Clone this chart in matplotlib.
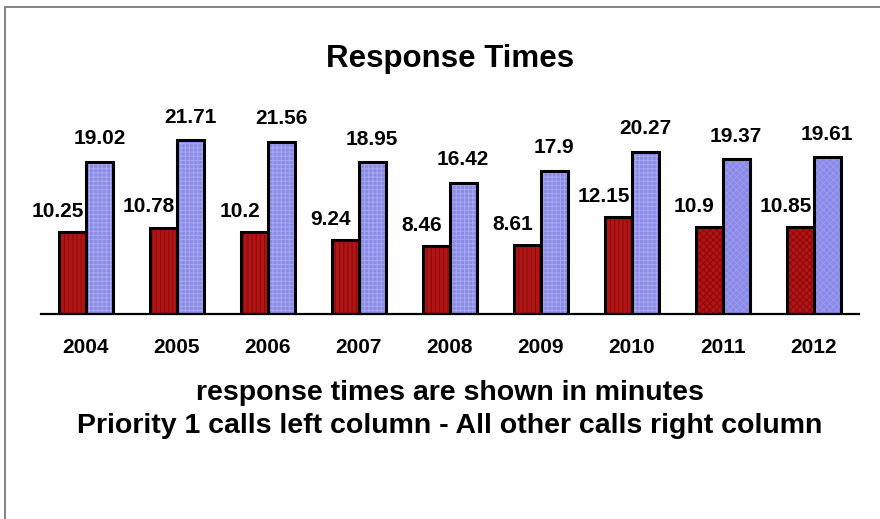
import matplotlib
matplotlib.use("Agg")
import matplotlib.pyplot as plt
import numpy as np
from matplotlib.patches import Rectangle

years = ["2004", "2005", "2006", "2007", "2008", "2009", "2010", "2011", "2012"]
priority1 = [10.25, 10.78, 10.2, 9.24, 8.46, 8.61, 12.15, 10.9, 10.85]
other_calls = [19.02, 21.71, 21.56, 18.95, 16.42, 17.9, 20.27, 19.37, 19.61]
value_labels_p1 = ["10.25", "10.78", "10.2", "9.24", "8.46", "8.61", "12.15", "10.9", "10.85"]
value_labels_other = ["19.02", "21.71", "21.56", "18.95", "16.42", "17.9", "20.27", "19.37", "19.61"]

plt.rcParams["font.family"] = ["Liberation Sans", "DejaVu Sans"]
plt.rcParams["font.weight"] = "bold"
plt.rcParams["hatch.linewidth"] = 0.7

W, H = 880, 519
fig = plt.figure(figsize=(W / 100, H / 100), dpi=100)
fig.patch.set_facecolor("white")

# outer frame (left and top visible)
fig.add_artist(Rectangle((5 / W, -0.05), 1.2, 1 - 7 / H + 0.05, transform=fig.transFigure,
                         fill=False, edgecolor="#7a7a7a", linewidth=1.3))

left, right, base_y, top_y = 40.5, 859, 314, 100
ax = fig.add_axes([left / W, (H - base_y) / H, (right - left) / W, (base_y - top_y) / H])
ax.set_facecolor("none")

x = np.arange(len(years))
w = 0.297
red = "#b01414"
blue = "#8a8ae6"

# fills with hatch pattern
red_fill = ax.bar(x - w / 2, priority1, w, color=red, edgecolor="#8c0a0a", hatch="||||",
                  linewidth=0, zorder=2)
blue_fill = ax.bar(x + w / 2, other_calls, w, color=blue, edgecolor="#a9a9f2", hatch="++++",
                   linewidth=0, zorder=4)
# last two years use a finer, speckled pattern in the reference
for p in list(red_fill)[-2:]:
    p.set_hatch("xxxxx")
for p in list(blue_fill)[-2:]:
    p.set_hatch("xxxxx")
    p.set_edgecolor("#9a9aee")
# black outlines
ax.bar(x - w / 2, priority1, w, fill=False, edgecolor="black", linewidth=2.2, zorder=2.5)
ax.bar(x + w / 2, other_calls, w, fill=False, edgecolor="black", linewidth=2.2, zorder=4.5)

for xi, v, s in zip(x, priority1, value_labels_p1):
    ax.annotate(s, (xi - w / 2, v), xytext=(-10.5, 11), textcoords="offset points",
                ha="center", va="baseline", fontsize=15, fontweight="bold", zorder=3)
for xi, v, s in zip(x, other_calls, value_labels_other):
    ax.annotate(s, (xi + w / 2, v), xytext=(0, 12.5), textcoords="offset points",
                ha="center", va="baseline", fontsize=15, fontweight="bold", zorder=5)

ax.set_xlim(-0.5, len(years) - 0.5)
ax.set_ylim(0, (base_y - top_y) / 8.0)
ax.set_xticks(x)
ax.set_xticklabels(years, fontsize=15, fontweight="bold")
ax.tick_params(axis="x", length=0, pad=17)
ax.set_yticks([])
for sp in ["top", "right", "left"]:
    ax.spines[sp].set_visible(False)
ax.spines["bottom"].set_linewidth(1.6)
ax.spines["bottom"].set_zorder(6)

fig.text(450 / W, 1 - 67 / H, "Response Times", ha="center", va="baseline",
         fontsize=22.5, fontweight="bold")
fig.text(450 / W, 1 - 400 / H, "response times are shown in minutes", ha="center", va="baseline",
         fontsize=20.5, fontweight="bold")
fig.text(450 / W, 1 - 433 / H, "Priority 1 calls left column - All other calls right column",
         ha="center", va="baseline", fontsize=20.5, fontweight="bold")

fig.savefig("out.png", dpi=100)
